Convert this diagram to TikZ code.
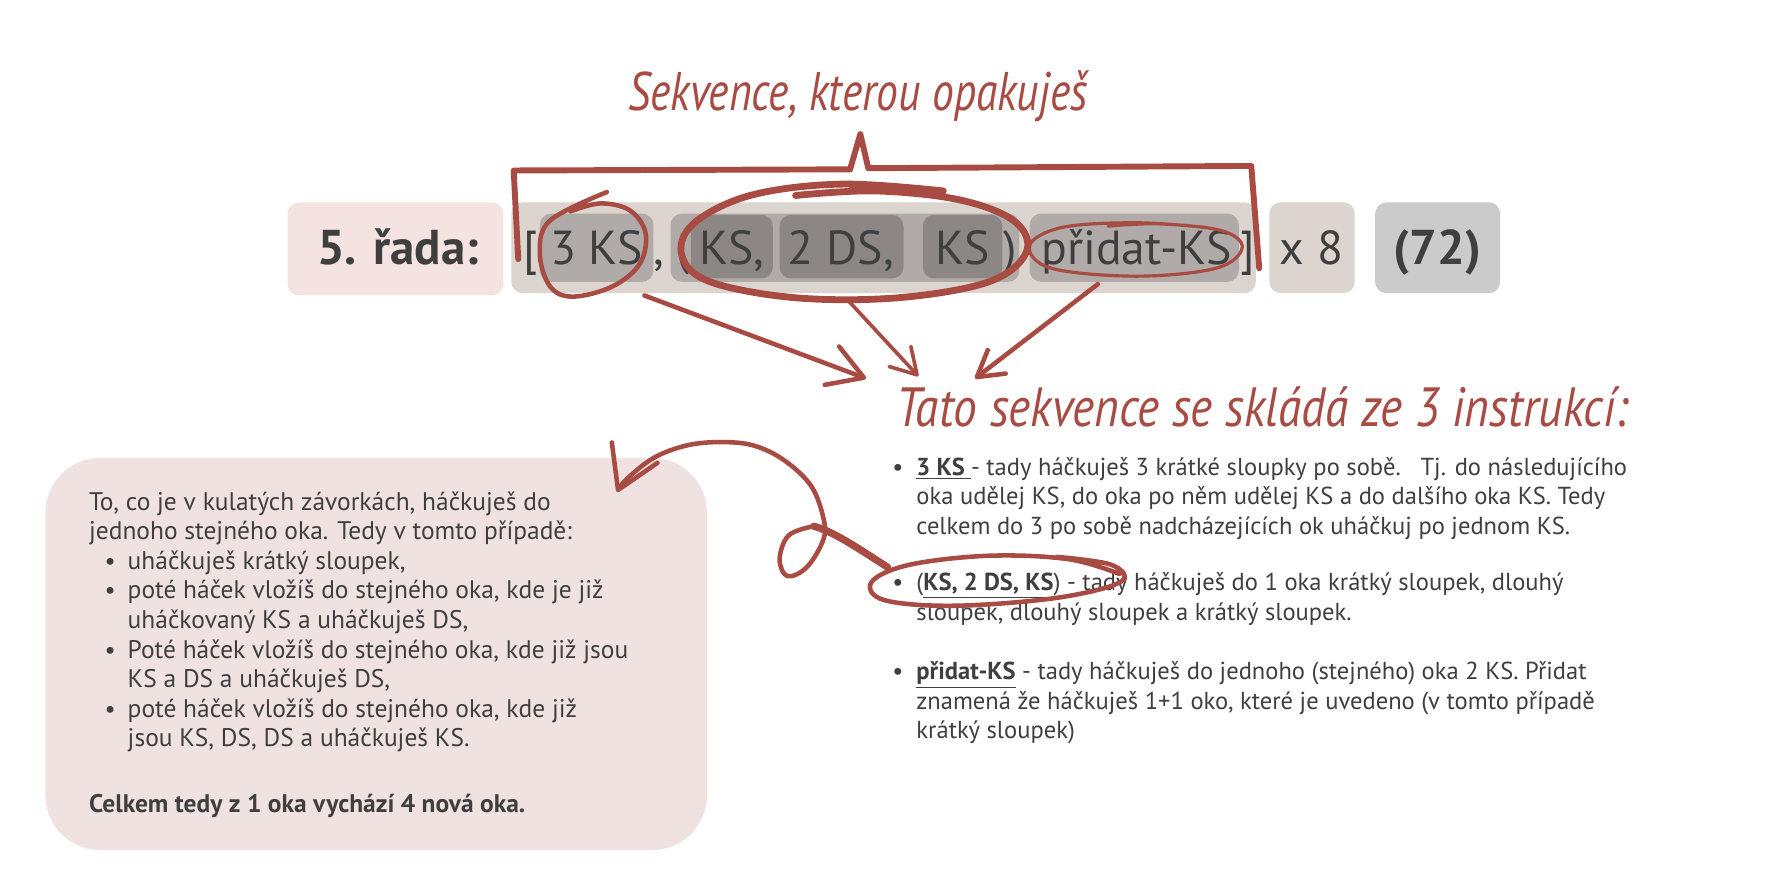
\documentclass[tikz,border=0pt]{standalone}
\usepackage{fontspec}
\usepackage{graphicx}
\setmainfont{PT Sans}
\usetikzlibrary{arrows.meta}
\definecolor{inkc}{HTML}{A84B43}
\definecolor{tx}{HTML}{3F3F3F}
\definecolor{pinkL}{HTML}{F4E3E1}
\definecolor{beige}{HTML}{DCD4CF}
\definecolor{grayA}{HTML}{B0ABA8}
\definecolor{grayB}{HTML}{8C8784}
\definecolor{grayC}{HTML}{CBCBCB}
\definecolor{leftbg}{HTML}{F0E2E0}
\tikzset{
  rbox/.style={rounded corners=5pt, inner sep=0pt, outer sep=0pt},
  rowtxt/.style={font=\fontsize{21}{24}\selectfont, text=tx, inner sep=0pt, anchor=base},
  rowbold/.style={font=\fontsize{21.5}{24}\selectfont\bfseries, text=tx, inner sep=0pt, anchor=base},
  pen/.style={draw=inkc, line width=2pt, line cap=round, line join=round},
  hand/.style={font=\itshape, text=inkc, inner sep=0pt, anchor=base west},
  bodyline/.style={font=\fontsize{10.8}{13}\selectfont, text=tx, inner sep=0pt, anchor=base west},
  leftline/.style={font=\fontsize{11.2}{13}\selectfont, text=tx, inner sep=0pt, anchor=base west},
  bul/.style={font=\fontsize{10.8}{13}\selectfont, text=tx, inner sep=0pt, anchor=base},
  tipA/.style={-{Straight Barb[length=15pt,width=18pt,round]}},
  tipB/.style={-{Straight Barb[length=11pt,width=13pt,round]}},
  tipC/.style={-{Straight Barb[length=18pt,width=22pt,round]}}
}
\begin{document}
\begin{tikzpicture}[x=0.5pt,y=-0.5pt]
\path[use as bounding box, fill=white] (0,0) rectangle (1568,777);

% title
\node[hand, anchor=base] (title) at (755,97) {\resizebox{202pt}{17.5pt}{Sekvence, kterou opakuješ}};

% row boxes
\node[rbox, fill=pinkL, minimum width=95pt, minimum height=41pt] (lab) at (348,219) {};
\node[rbox, fill=beige, minimum width=327.5pt, minimum height=40pt] (seq) at (777.5,218) {};
\node[rbox, fill=beige, minimum width=37.5pt, minimum height=40pt] (x8) at (1154.5,218) {};
\node[rbox, fill=grayC, minimum width=55pt, minimum height=40pt] (n72) at (1265,218) {};
\node[rbox, fill=grayA, minimum width=50pt, minimum height=30pt] (ks3) at (525,218) {};
\node[rbox, fill=grayA, minimum width=153.5pt, minimum height=30pt] (grp) at (743.5,218) {};
\node[rbox, fill=grayB, minimum width=36pt, minimum height=28pt] (d1) at (644,217) {};
\node[rbox, fill=grayB, minimum width=54.5pt, minimum height=28pt] (d2) at (740.5,217) {};
\node[rbox, fill=grayB, minimum width=35pt, minimum height=28pt] (d3) at (847,217) {};
\node[rbox, fill=grayA, minimum width=92pt, minimum height=30pt] (prid) at (998,218) {};

% row texts
\node[rowbold] (labt) at (350,233) {5. řada:};
\node[rowtxt] (lb) at (467,233) {[};
\node[rowtxt] (t3) at (525,233) {3 KS};
\node[rowtxt] (c1) at (580,233) {,};
\node[rowtxt] (lp) at (601,233) {(};
\node[rowtxt] (t4) at (644,233) {KS,};
\node[rowtxt] (t5) at (740,233) {2 DS,};
\node[rowtxt] (t6) at (847,233) {KS};
\node[rowtxt] (rp) at (889,233) {)};
\node[rowtxt] (t7) at (1000,233) {přidat-KS};
\node[rowtxt] (rb) at (1098,233) {]};
\node[rowtxt] (t8) at (1154,233) {x 8};
\node[rowbold] (t9) at (1265,233) {(72)};

% brace
\draw[pen, line width=2.6pt] (456,228) -- (452,150) -- (748,149) -- (757,118) -- (764,148) -- (1101,146) -- (1108,236);

% circles
\draw[pen] plot[smooth, tension=0.6] coordinates {(534,169) (484,194) (475,223) (484,252) (504,261) (539,252) (563,232) (568,205) (554,185) (528,179) (502,186)};
\draw[pen, line width=3pt] plot[smooth, tension=0.6] coordinates {(830,168) (740,162) (660,172) (610,197) (600,225) (625,248) (700,262) (790,262) (870,248) (903,222) (893,195) (845,176) (770,168) (700,172)};
\draw[pen, line width=1.4pt] plot[smooth, tension=0.6] coordinates {(1060,200) (1000,196) (935,200) (906,216) (925,236) (1000,243) (1070,236) (1093,218) (1075,203) (1020,197) (975,199)};

% arrows to heading
\coordinate (a1s) at (567,260); \coordinate (a1e) at (762,333);
\coordinate (a2s) at (745,263); \coordinate (a2e) at (808,331);
\coordinate (a3s) at (966,250); \coordinate (a3e) at (858,333);
\draw[pen, tipA] (a1s) -- (a1e);
\draw[pen, line width=1.6pt, tipB] (a2s) -- (a2e);
\draw[pen, tipB] (a3s) -- (a3e);

% heading
\node[hand] (head) at (788,375) {\resizebox{322pt}{17.5pt}{Tato sekvence se skládá ze 3 instrukcí:}};

% left box
\node[fill=leftbg, rounded corners=24pt, minimum width=291pt, minimum height=172.5pt, inner sep=0pt] (lbox) at (331,575.5) {};

% right list
\node[bul] (rb1) at (790,418) {•};
\node[bodyline] (r1) at (806,418) {\textbf{\underline{3 KS\ }}- tady háčkuješ 3 krátké sloupky po sobě.\ \ \ Tj. do následujícího};
\node[bodyline] (r2) at (806,444) {oka udělej KS, do oka po něm udělej KS a do dalšího oka KS. Tedy};
\node[bodyline] (r3) at (806,470) {celkem do 3 po sobě nadcházejících ok uháčkuj po jednom KS.};
\node[bul] (rb2) at (790,520) {•};
\node[bodyline] (r4) at (806,520) {(\textbf{\underline{KS, 2 DS, KS}}) - tady háčkuješ do 1 oka krátký sloupek, dlouhý};
\node[bodyline] (r5) at (806,546) {sloupek, dlouhý sloupek a krátký sloupek.};
\node[bul] (rb3) at (790,598) {•};
\node[bodyline] (r6) at (806,598) {\textbf{\underline{přidat-KS}} - tady háčkuješ do jednoho (stejného) oka 2 KS. Přidat};
\node[bodyline] (r7) at (806,624) {znamená že háčkuješ 1+1 oko, které je uvedeno (v tomto případě};
\node[bodyline] (r8) at (806,650) {krátký sloupek)};

% left text
\node[leftline] (l1) at (78,449) {To, co je v kulatých závorkách, háčkuješ do};
\node[leftline] (l2) at (78,475) {jednoho stejného oka. Tedy v tomto případě:};
\node[bul] (lb1) at (97,501) {•};
\node[leftline] (l3) at (112,501) {uháčkuješ krátký sloupek,};
\node[bul] (lb2) at (97,527) {•};
\node[leftline] (l4) at (112,527) {poté háček vložíš do stejného oka, kde je již};
\node[leftline] (l5) at (112,553) {uháčkovaný KS a uháčkuješ DS,};
\node[bul] (lb3) at (97,579) {•};
\node[leftline] (l6) at (112,579) {Poté háček vložíš do stejného oka, kde již jsou};
\node[leftline] (l7) at (112,605) {KS a DS a uháčkuješ DS,};
\node[bul] (lb4) at (97,631) {•};
\node[leftline] (l8) at (112,631) {poté háček vložíš do stejného oka, kde již};
\node[leftline] (l9) at (112,657) {jsou KS, DS, DS a uháčkuješ KS.};
\node[leftline, font=\fontsize{11.2}{13}\selectfont\bfseries] (l10) at (78,715) {Celkem tedy z 1 oka vychází 4 nová oka.};

% ellipse in list and curly arrow
\draw[pen] plot[smooth, tension=0.6] coordinates {(985,505) (940,492) (870,489) (800,497) (767,512) (778,528) (840,533) (930,526) (986,512) (978,497) (930,490)};
\coordinate (cs) at (781,499);
\coordinate (cm) at (716,463);
\coordinate (ce) at (543,433);
\draw[pen, line width=3.2pt] (cs) .. controls (760,486) and (735,468) .. (cm);
\draw[pen, tipC] plot[smooth, tension=0.6] coordinates {(716,463) (694,471) (686,492) (693,507) (710,499) (724,476) (725,458) (714,428) (690,405) (663,392) (634,389) (604,392) (575,403) (551,422) (543,433)};
\end{tikzpicture}
\end{document}
